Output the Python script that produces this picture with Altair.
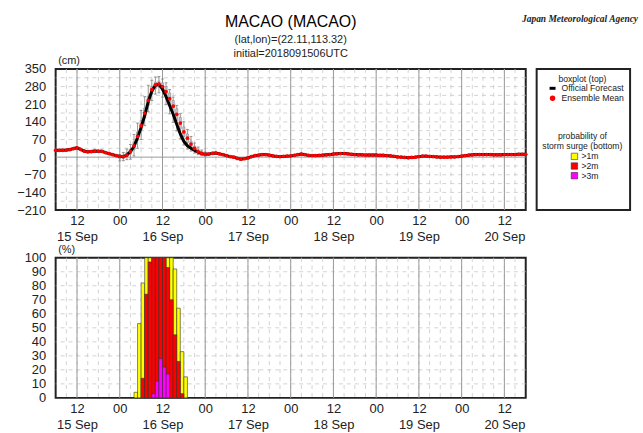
import altair as alt
import pandas as pd

# ---------------- data ----------------
HOURS = list(range(133))  # hours after 2018-09-15 06UTC
OFFICIAL = [
    27, 27, 27, 28, 30, 34, 37, 31, 24, 21,
    22, 24, 23, 23, 18, 14, 10, 6, 3, 2,
    8, 22, 42, 78, 118, 165, 220, 262, 285, 289,
    270, 240, 205, 170, 130, 92, 62, 45, 35, 27,
    20, 14, 11, 12, 15, 16, 13, 10, 6, 2,
    0, -5, -8, -6, -3, 2, 6, 8, 10, 10,
    8, 5, 3, 2, 3, 4, 5, 7, 10, 12,
    10, 7, 6, 6, 7, 8, 9, 10, 12, 13,
    14, 14, 13, 11, 10, 9, 9, 8, 8, 8,
    8, 7, 7, 6, 5, 3, 1, 0, -1, -2,
    -1, 0, 2, 4, 4, 3, 2, 1, 0, 0,
    0, 1, 1, 2, 4, 6, 8, 9, 10, 10,
    10, 10, 10, 9, 9, 9, 10, 10, 10, 10,
    11, 11, 11]
ENS_MEAN = [
    27, 27, 27, 28, 30, 34, 37, 31, 24, 21,
    22, 24, 23, 23, 18, 14, 10, 6, 3, 2,
    8, 22, 45, 82, 125, 175, 225, 268, 287, 290,
    280, 260, 232, 202, 170, 135, 100, 75, 52, 35,
    22, 15, 12, 12, 15, 16, 13, 10, 6, 2,
    0, -5, -8, -6, -3, 2, 6, 8, 10, 10,
    8, 5, 3, 2, 3, 4, 5, 7, 10, 12,
    10, 7, 6, 6, 7, 8, 9, 10, 12, 13,
    14, 14, 13, 11, 10, 9, 9, 8, 8, 8,
    8, 7, 7, 6, 5, 3, 1, 0, -1, -2,
    -1, 0, 2, 4, 4, 3, 2, 1, 0, 0,
    0, 1, 1, 2, 4, 6, 8, 9, 10, 10,
    10, 10, 10, 9, 9, 9, 10, 10, 10, 10,
    11, 11, 11]

BOX_HOURS = list(range(18, 43))
WHISK_LO = [-15, -14, -10, -8, 5, 35, 70, 125, 180, 225, 250, 255, 238, 208, 172, 138, 104, 72, 48, 32, 24, 16, 10, 6, 4]
WHISK_HI = [10, 18, 32, 50, 90, 135, 185, 240, 285, 305, 318, 320, 310, 295, 268, 238, 205, 172, 140, 110, 82, 56, 40, 28, 20]
BOX_LO = [-6, -5, 2, 12, 30, 65, 105, 155, 205, 250, 272, 278, 265, 240, 210, 178, 145, 112, 82, 58, 40, 27, 17, 12, 9]
BOX_HI = [4, 8, 18, 32, 60, 100, 145, 195, 242, 280, 298, 302, 295, 280, 255, 225, 192, 158, 120, 92, 64, 44, 30, 21, 15]

PROB_HOURS = list(range(22, 37))
P1M = [4, 53, 82, 100, 100, 100, 100, 100, 100, 100, 100, 92, 64, 33, 15]
P2M = [0, 0, 14, 74, 97, 100, 100, 100, 100, 93, 70, 45, 26, 3, 0]
P3M = [0, 0, 0, 0, 0, 3, 12, 28, 22, 17, 0, 0, 0, 0, 0]

MAJOR_HOURS = list(range(6, 133, 12))
MINOR_HOURS = list(range(3, 132, 3))
Y_TICKS_TOP = [-210, -140, -70, 0, 70, 140, 210, 280, 350]
Y_GRID_TOP = [-175, -140, -105, -70, -35, 35, 70, 105, 140, 175, 210, 245, 280, 315]
Y_TICKS_BOT = [0, 10, 20, 30, 40, 50, 60, 70, 80, 90, 100]

TITLE = "MACAO (MACAO)"
SUBTITLE = ["(lat,lon)=(22.11,113.32)", "initial=2018091506UTC"]
AGENCY = "Japan Meteorological Agency"
LEGEND_TOP = ["boxplot (top)", "Official Forecast", "Ensemble Mean"]
LEGEND_PROB_TITLE = ["probability of", "storm surge (bottom)"]
PROB_LABELS = [">1m", ">2m", ">3m"]
PROB_COLORS = ["#FFFF00", "#FF0000", "#FF00FF"]

FONT = "Liberation Sans"
W, H = 473, 142

# ---------------- frames ----------------
df_line = pd.DataFrame({"t": HOURS, "official": OFFICIAL, "mean": ENS_MEAN})
df_box = pd.DataFrame({"t": BOX_HOURS, "wlo": WHISK_LO, "whi": WHISK_HI, "blo": BOX_LO, "bhi": BOX_HI})
df_box["tl"] = df_box["t"] - 0.3
df_box["tr"] = df_box["t"] + 0.3
df_box["cl"] = df_box["t"] - 0.4
df_box["cr"] = df_box["t"] + 0.4

rows = []
for lab, vals in zip(PROB_LABELS, [P1M, P2M, P3M]):
    for t, v in zip(PROB_HOURS, vals):
        if v > 0:
            rows.append({"t0": t, "t1": t + 1, "p": v, "cls": lab})
df_prob = pd.DataFrame(rows)

df_major = pd.DataFrame({"t": MAJOR_HOURS})
df_minor = pd.DataFrame({"t": MINOR_HOURS})
df_ygrid_top = pd.DataFrame({"v": Y_GRID_TOP})
df_ygrid_bot = pd.DataFrame({"v": Y_TICKS_BOT[1:-1]})
df_zero = pd.DataFrame({"v": [0]})

xscale = alt.Scale(domain=[0, 132], nice=False, zero=False)
yscale_top = alt.Scale(domain=[-210, 350], nice=False, zero=False)
yscale_bot = alt.Scale(domain=[0, 100], nice=False)

label_expr = ("(datum.value - 6) % 24 == 0 ? ['12', (15 + floor((datum.value + 6) / 24)) + ' Sep'] : '00'")

X_AXIS = alt.Axis(values=MAJOR_HOURS, labelExpr=label_expr, grid=False, ticks=False,
                  domain=False, labelFontSize=13, labelPadding=5, labelLineHeight=16,
                  labelOverlap=False, labelFlush=False, title=None, labelColor="#222",
                  labelFont=FONT)


def y_axis(values, title):
    return alt.Axis(values=values, grid=False, ticks=False, domain=False, labelFontSize=13,
                    labelPadding=10, labelColor="#222", labelFont=FONT, labelOverlap=False,
                    title=title, titleAngle=0, titleAlign="left", titleBaseline="bottom",
                    titleX=2, titleY=-3, titleFontSize=11, titleFontWeight="normal",
                    titleFont=FONT, titleColor="#222")


Y_AXIS_TOP = y_axis(Y_TICKS_TOP, "(cm)")
Y_AXIS_BOT = y_axis(Y_TICKS_BOT, "(%)")


def X(field):
    return alt.X(field, scale=xscale, axis=X_AXIS)


def grid_layers(df_y, yscale, yaxis):
    minor_v = alt.Chart(df_minor).mark_rule(color="#c8c8c8", strokeWidth=0.8, strokeDash=[4, 4]).encode(
        x=X("t:Q"))
    minor_h = alt.Chart(df_y).mark_rule(color="#c8c8c8", strokeWidth=0.8, strokeDash=[4, 4]).encode(
        y=alt.Y("v:Q", scale=yscale, axis=yaxis))
    major_v = alt.Chart(df_major).mark_rule(color="#999999", strokeWidth=1).encode(
        x=X("t:Q"))
    return [minor_v, minor_h, major_v]


def YT(field):
    return alt.Y(field, scale=yscale_top, axis=Y_AXIS_TOP)


# ---------------- top panel ----------------
WHISK_COLOR = "#8a8a8a"
zero_line = alt.Chart(df_zero).mark_rule(color="#999999", strokeWidth=1).encode(y=YT("v:Q"))
whisk = alt.Chart(df_box).mark_rule(color=WHISK_COLOR, strokeWidth=0.9).encode(
    x=X("t:Q"), y=YT("wlo:Q"), y2="whi:Q")
cap_lo = alt.Chart(df_box).mark_rule(color=WHISK_COLOR, strokeWidth=0.9).encode(
    x=X("cl:Q"), x2="cr:Q", y=YT("wlo:Q"))
cap_hi = alt.Chart(df_box).mark_rule(color=WHISK_COLOR, strokeWidth=0.9).encode(
    x=X("cl:Q"), x2="cr:Q", y=YT("whi:Q"))
boxes = alt.Chart(df_box).mark_rect(color="#c8c8c8", stroke=WHISK_COLOR, strokeWidth=0.6).encode(
    x=X("tl:Q"), x2="tr:Q", y=YT("blo:Q"), y2="bhi:Q")
official = alt.Chart(df_line).mark_line(color="black", strokeWidth=3).encode(
    x=X("t:Q"), y=YT("official:Q"))
mean_pts = alt.Chart(df_line).mark_circle(color="#FF0000", size=14, opacity=1).encode(
    x=X("t:Q"), y=YT("mean:Q"))

top = alt.layer(*grid_layers(df_ygrid_top, yscale_top, Y_AXIS_TOP), zero_line, whisk, cap_lo, cap_hi,
                boxes, official, mean_pts).properties(
    width=W, height=H,
    title=alt.TitleParams(text=TITLE, subtitle=SUBTITLE, anchor="middle", frame="group",
                          fontSize=16, font=FONT, fontWeight="normal", color="black",
                          subtitleFontSize=11, subtitleFont=FONT, subtitleColor="#222",
                          subtitlePadding=4, subtitleLineHeight=14, offset=-4))

# ---------------- bottom panel ----------------
bars = alt.Chart(df_prob).mark_rect(stroke="#333333", strokeWidth=0.6).encode(
    x=X("t0:Q"), x2="t1:Q",
    y=alt.Y("p:Q", scale=yscale_bot, axis=Y_AXIS_BOT), y2=alt.datum(0),
    color=alt.Color("cls:N", scale=alt.Scale(domain=PROB_LABELS, range=PROB_COLORS), legend=None),
    order=alt.Order("cls:N", sort="ascending"))

bottom = alt.layer(*grid_layers(df_ygrid_bot, yscale_bot, Y_AXIS_BOT), bars).properties(width=W, height=141)


# ---------------- legend panel ----------------
def txt(s, x, y, align="center", size=8.7, font=FONT, **kw):
    return alt.Chart(pd.DataFrame({"label": [s]})).mark_text(
        align=align, baseline="middle", fontSize=size, font=font, color="#222", **kw).encode(
        x=alt.value(x), y=alt.value(y), text="label:N")


one = pd.DataFrame({"k": [0]})
leg_layers = [
    txt(LEGEND_TOP[0], 46, 10),
    alt.Chart(one).mark_rule(color="black", strokeWidth=3).encode(
        x=alt.value(13), x2=alt.value(19), y=alt.value(19.5)),
    txt(LEGEND_TOP[1], 25, 19.5, align="left"),
    alt.Chart(one).mark_circle(color="#FF0000", size=30, opacity=1).encode(
        x=alt.value(16), y=alt.value(29.5)),
    txt(LEGEND_TOP[2], 25, 29.5, align="left"),
    txt(LEGEND_PROB_TITLE[0], 46, 68),
    txt(LEGEND_PROB_TITLE[1], 46, 78),
]
for i, (lab, col) in enumerate(zip(PROB_LABELS, PROB_COLORS)):
    yy = 88 + i * 9.7
    leg_layers.append(alt.Chart(one).mark_square(color=col, size=42, opacity=1, stroke="#333333",
                                                 strokeWidth=0.6).encode(x=alt.value(38), y=alt.value(yy)))
    leg_layers.append(txt(lab, 45, yy, align="left"))
leg_layers.append(txt(AGENCY, 102, -50, align="right", size=9.5, font="Liberation Serif",
                      fontStyle="italic", fontWeight="bold"))
legend = alt.layer(*leg_layers).properties(width=94, height=142)

chart = alt.concat(top, legend, bottom, columns=2, spacing={"row": 48, "column": 11},
                   bounds="flush").properties(
    padding={"left": 15, "top": 12, "right": 4, "bottom": 2}
).configure_view(stroke="#222222", strokeWidth=2)

chart.save("out.html", embed_options={"renderer": "svg", "actions": False})
